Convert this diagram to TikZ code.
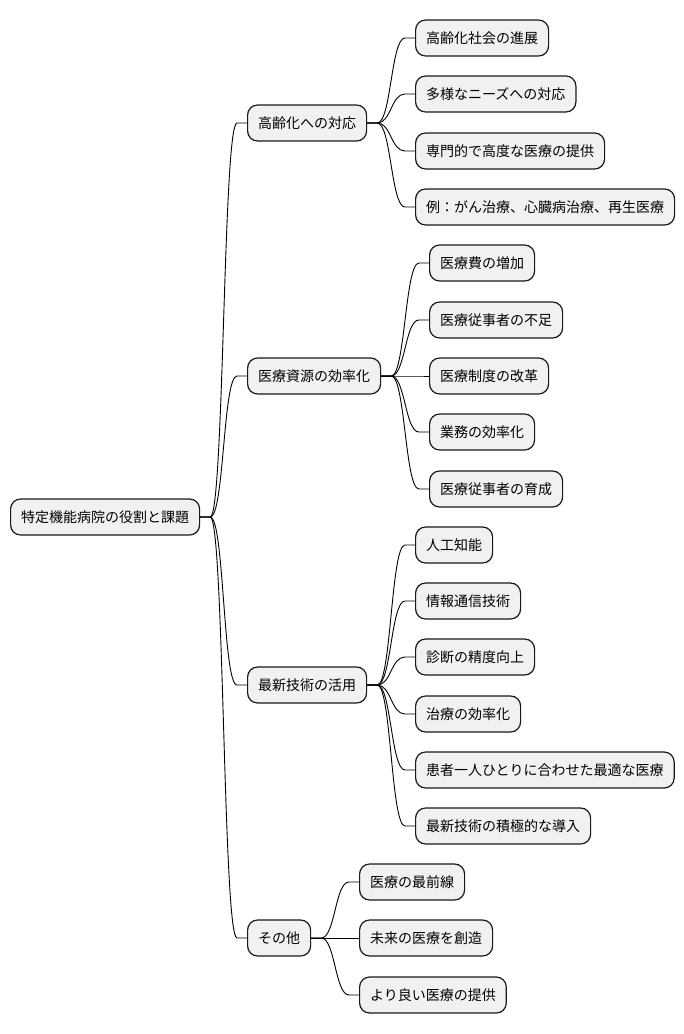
\documentclass[tikz,border=0pt]{standalone}
\usepackage{fontspec}
\newfontfamily\cjk{Noto Sans CJK JP}
\usetikzlibrary{calc}
\tikzset{
  box/.style={draw=black!90, fill=black!5.5, line width=1.2pt, rounded corners=10pt,
    anchor=west, minimum height=36pt, inner xsep=10.5pt, inner ysep=0pt,
    font=\cjk\fontsize{14}{16}\selectfont},
  conn/.style={draw=black, line width=0.9pt}
}
\begin{document}
\begin{tikzpicture}[x=1pt,y=-1pt]
\useasboundingbox (0,0) rectangle (684,1034);
\node[box] (root) at (10,517) {特定機能病院の役割と課題};
\node[box] (a) at (247,123) {高齢化への対応};
\node[box] (b) at (247,376) {医療資源の効率化};
\node[box] (c) at (247,685) {最新技術の活用};
\node[box] (d) at (247,938) {その他};
\node[box] (a1) at (415,38) {高齢化社会の進展};
\node[box] (a2) at (415,94) {多様なニーズへの対応};
\node[box] (a3) at (415,151) {専門的で高度な医療の提供};
\node[box] (a4) at (415,207) {例：がん治療、心臓病治療、再生医療};
\node[box] (b1) at (429,263) {医療費の増加};
\node[box] (b2) at (429,320) {医療従事者の不足};
\node[box] (b3) at (429,376) {医療制度の改革};
\node[box] (b4) at (429,432) {業務の効率化};
\node[box] (b5) at (429,489) {医療従事者の育成};
\node[box] (c1) at (415,545) {人工知能};
\node[box] (c2) at (415,601) {情報通信技術};
\node[box] (c3) at (415,657) {診断の精度向上};
\node[box] (c4) at (415,714) {治療の効率化};
\node[box] (c5) at (415,770) {患者一人ひとりに合わせた最適な医療};
\node[box] (c6) at (415,826) {最新技術の積極的な導入};
\node[box] (d1) at (359,882) {医療の最前線};
\node[box] (d2) at (359,938) {未来の医療を創造};
\node[box] (d3) at (359,995) {より良い医療の提供};
\foreach \p/\c in {root/a,root/b,root/c,root/d,a/a1,a/a2,a/a3,a/a4,b/b1,b/b2,b/b3,b/b4,b/b5,c/c1,c/c2,c/c3,c/c4,c/c5,c/c6,d/d1,d/d2,d/d3}
  \draw[conn] (\p.east) -- ++(10,0) .. controls +(14,0) and ($(\c.west)+(-24,0)$) .. ($(\c.west)+(-10,0)$) -- (\c.west);
\end{tikzpicture}
\end{document}
